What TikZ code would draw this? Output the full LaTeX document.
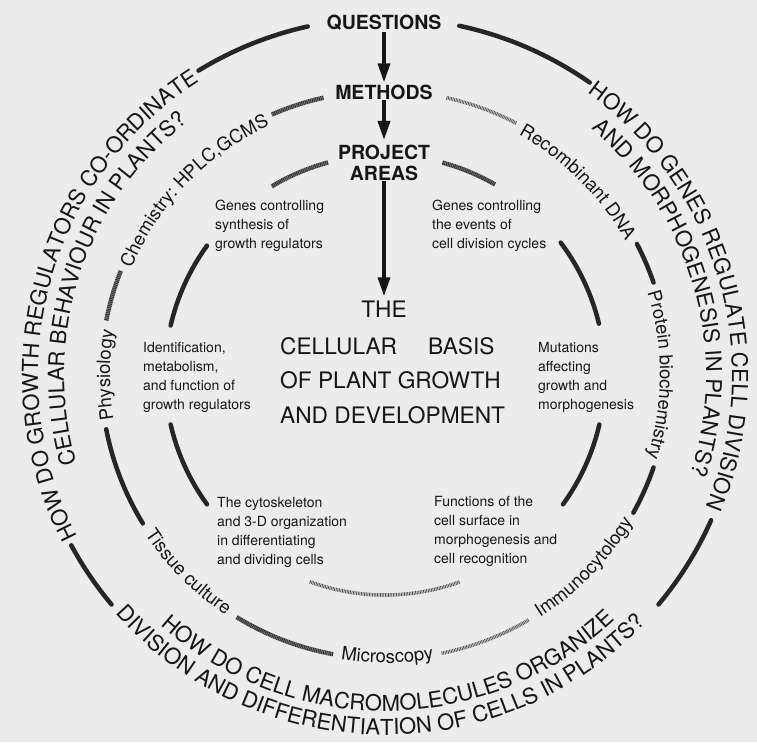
\documentclass[tikz,border=0pt]{standalone}
\usepackage{fontspec}
\setmainfont{TeX Gyre Heros}
\usetikzlibrary{decorations.text,arrows.meta}
\definecolor{paper}{RGB}{236,236,236}
\definecolor{ink}{RGB}{22,22,22}
% clockwise text (reads left to right over the top / down the sides)
\newcommand\cwtext[5]{%
  \path[decorate,decoration={text along path,text align=center,text color=ink,
    text={|\fontsize{#1}{#1}\selectfont|#5}}]
    ({#3+#4}:#2) arc[start angle={#3+#4},end angle={#3-#4},radius=#2];}
% counter-clockwise text (reads left to right along the bottom)
\newcommand\ccwtext[5]{%
  \path[decorate,decoration={text along path,text align=center,text color=ink,
    text={|\fontsize{#1}{#1}\selectfont|#5}}]
    ({#3-#4}:#2) arc[start angle={#3-#4},end angle={#3+#4},radius=#2];}
\newcommand\ringseg[4]{\draw[#1] (#3:#2) arc[start angle=#3,end angle=#4,radius=#2];}
\begin{document}
\begin{tikzpicture}[x=1pt,y=1pt,
  hb/.style={font=\fontsize{19.5}{21}\selectfont\bfseries, inner sep=0pt, text=ink},
  ttl/.style={font=\fontsize{22.7}{34.5}\selectfont, inner sep=0pt, text=ink},
  small/.style={font=\fontsize{14}{19}\selectfont, inner sep=0pt, align=left, anchor=north west, text=ink},
  arr/.style={line width=3.5pt, draw=ink, -{Triangle[width=12pt,length=19pt]}},
  seg/.style={line width=4.5pt, draw=black!85, line cap=round},
  segtex/.style={line width=4.5pt, draw=black!78, dash pattern=on 1.3pt off 0.5pt},
  seghatch/.style={line width=3.6pt, draw=black!68, dash pattern=on 0.8pt off 0.8pt},
]
\path[use as bounding box, fill=paper] (-385,-367) rectangle (372,375);

% ---------- centre column ----------
\node[hb, anchor=base] (q) at (-1,345) {QUESTIONS};
\node[hb, anchor=base] (m) at (-1,275) {METHODS};
\node[hb, anchor=north, align=center] (p) at (-1,230) {PROJECT\\AREAS};
\node[ttl, anchor=base] (the) at (-1,58) {THE};
\node[ttl, anchor=north west, align=left] (basis) at (-105,38)
  {CELLULAR\hspace{31pt}BASIS\\OF PLANT GROWTH\\AND DEVELOPMENT};

\draw[arr, shorten <=1pt, shorten >=3pt] (q.south) -- (m.north);
\draw[arr, shorten >=5pt] (m.south) -- (p.north);
\draw[arr, shorten >=4pt] (p.south) -- (the.north);

% ---------- project areas ----------
\node[small] (gsyn) at (-170,175) {Genes controlling\\synthesis of\\growth regulators};
\node[small] (gcell) at (47,175) {Genes controlling\\the events of\\cell division cycles};
\node[small] (ident) at (-242,33) {Identification,\\metabolism,\\and function of\\growth regulators};
\node[small] (mut) at (153,33) {Mutations\\affecting\\growth and\\morphogenesis};
\node[small] (cyto) at (-168,-122) {The cytoskeleton\\and 3-D organization\\in differentiating\\and dividing cells};
\node[small] (func) at (49,-121) {Functions of the\\cell surface in\\morphogenesis and\\cell recognition};

% ---------- inner ring ----------
\ringseg{segtex}{220}{105}{121}
\ringseg{segtex}{220}{60}{75}
\ringseg{seg}{220}{144}{167}
\ringseg{seg}{220}{193}{216}
\ringseg{seghatch}{220}{250}{290}
\ringseg{seg}{220}{13.5}{37}
\ringseg{seg}{220}{-36}{-13}

% ---------- middle ring ----------
\ringseg{segtex}{284}{102.5}{113.5}
\ringseg{segtex}{284}{158.5}{169}
\ringseg{seg}{284}{191}{211.5}
\ringseg{segtex}{284}{238.5}{259.5}
\ringseg{seghatch}{284}{281.5}{300.5}
\ringseg{seg}{284}{-29}{-19}
\ringseg{seg}{284}{19}{27.5}
\ringseg{seghatch}{284}{62.5}{77.5}

\cwtext{18.5}{275}{136}{40}{Chemistry: HPLC,GCMS}
\cwtext{18.5}{275}{180}{30}{Physiology}
\ccwtext{18.5}{288}{225}{30}{Tissue culture}
\ccwtext{18.5}{288}{270.5}{30}{Microscopy}
\ccwtext{18.5}{288}{316}{30}{Immunocytology}
\cwtext{18.5}{275}{0}{40}{Protein biochemistry}
\cwtext{18.5}{275}{45}{35}{Recombinant DNA}

% ---------- outer ring ----------
\ringseg{seg}{357}{102.5}{121.5}
\ringseg{seg}{357}{55}{78}
\ringseg{seg}{357}{208.5}{220}
\ringseg{seg}{357}{-40}{-24}

\cwtext{22}{347}{165}{60}{HOW DO GROWTH REGULATORS CO-ORDINATE}
\cwtext{22}{321}{162}{50}{CELLULAR BEHAVIOUR IN PLANTS?}
\cwtext{22}{347}{16}{60}{HOW DO GENES REGULATE CELL DIVISION}
\cwtext{22}{321}{16}{50}{AND MORPHOGENESIS IN PLANTS?}
\ccwtext{22}{336}{270.7}{55}{HOW DO CELL MACROMOLECULES ORGANIZE}
\ccwtext{22}{360}{269}{60}{DIVISION AND DIFFERENTIATION OF CELLS IN PLANTS?}
\end{tikzpicture}
\end{document}
